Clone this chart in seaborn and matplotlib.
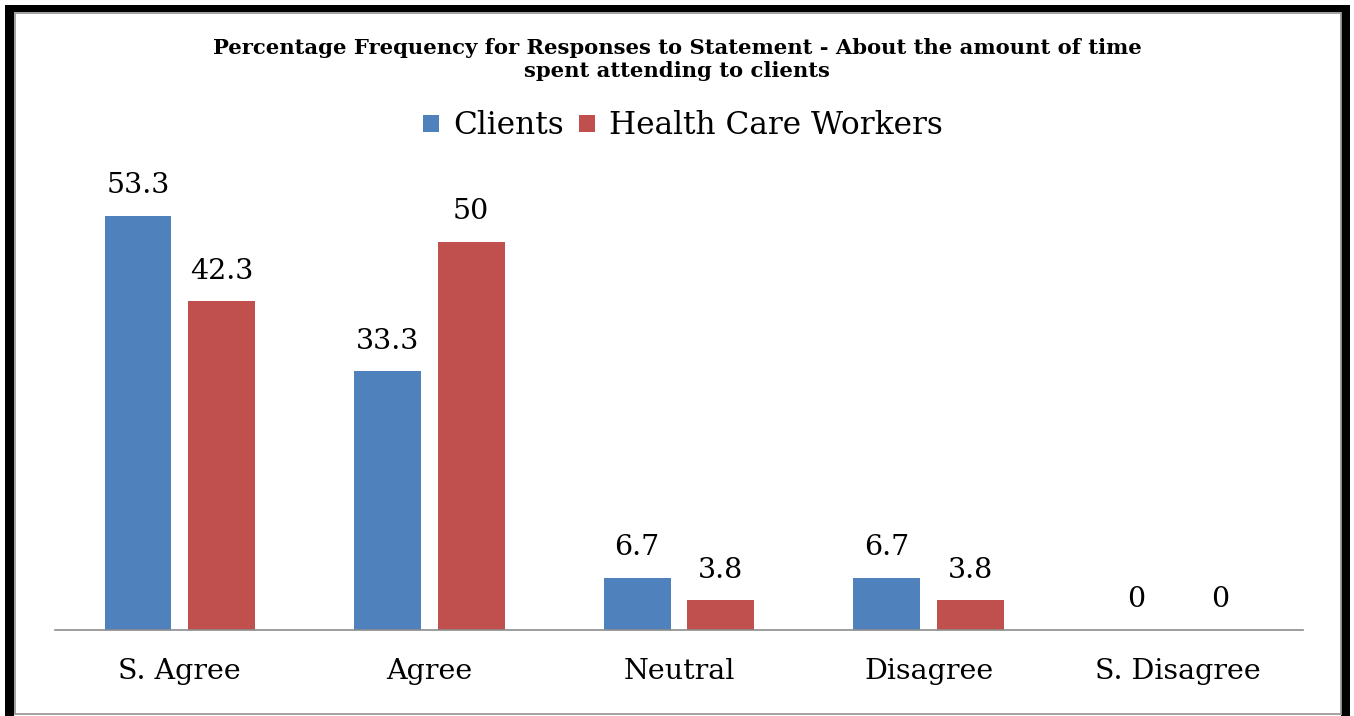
import matplotlib
matplotlib.use("Agg")
import matplotlib.pyplot as plt
from matplotlib.patches import Rectangle
import pandas as pd
import seaborn as sns

# Survey responses (percentage frequency)
categories = ["S. Agree", "Agree", "Neutral", "Disagree", "S. Disagree"]
clients = [53.3, 33.3, 6.7, 6.7, 0]
health_workers = [42.3, 50, 3.8, 3.8, 0]
groups = ["Clients", "Health Care Workers"]
title = ("Percentage Frequency for Responses to Statement - About the amount of time\n"
         "spent attending to clients")

df = pd.DataFrame({
    "Response": categories * 2,
    "Percent": clients + health_workers,
    "Group": [groups[0]] * len(categories) + [groups[1]] * len(categories),
})

sns.set_theme(style="white")
plt.rcParams["font.family"] = ["DejaVu Serif"]

W, H = 1354, 716
fig = plt.figure(figsize=(W / 100, H / 100), dpi=100)
fig.patch.set_facecolor("white")


def fx(px):
    return px / W


def fy(py):
    return 1 - py / H


ax = fig.add_axes([fx(55), fy(630), fx(1303) - fx(55), (630 - 164) / H])

sns.barplot(data=df, x="Response", y="Percent", hue="Group", order=categories,
            hue_order=groups, palette=["#4F81BD", "#C0504D"], width=0.67, gap=0.2,
            saturation=1, edgecolor="none", ax=ax)

ax.set_xlim(-0.5, len(categories) - 0.5)
ax.set_ylim(0, 60)
ax.set_xlabel("")
ax.set_ylabel("")
ax.set_yticks([])
for side in ("top", "left", "right"):
    ax.spines[side].set_visible(False)
ax.spines["bottom"].set_color("#8c8c8c")
ax.spines["bottom"].set_linewidth(1.2)
ax.tick_params(axis="x", length=0, pad=20, labelsize=20.5, colors="black")
ax.set_facecolor("white")

for cont in ax.containers:
    ax.bar_label(cont, labels=[f"{b.get_height():g}" for b in cont],
                 padding=12, fontsize=20.5, color="black")

handles, labels = ax.get_legend_handles_labels()
ax.legend_.remove()
leg = fig.legend(handles, labels, loc="center", bbox_to_anchor=(fx(683), fy(126)),
                 ncol=2, frameon=False, fontsize=22.5, handlelength=0.5, handleheight=0.5,
                 handletextpad=0.45, columnspacing=0.5, borderaxespad=0, borderpad=0)
for t in leg.get_texts():
    t.set_color("black")

fig.text(0.5, fy(59.5), title, ha="center", va="center", fontsize=15.2,
         fontweight="bold", linespacing=1.18, color="black")

# Page frame: heavy black edge with a thin grey inner rule
for (x0, y0, x1, y1) in [(5, 5, 14, 716), (5, 5, 1350, 12), (1341, 5, 1350, 716)]:
    fig.patches.append(Rectangle((fx(x0), fy(y1)), fx(x1) - fx(x0), fy(y0) - fy(y1),
                                 transform=fig.transFigure, facecolor="black",
                                 edgecolor="none", zorder=5))
fig.patches.append(Rectangle((fx(14.5), fy(714)), fx(1340.5) - fx(14.5), fy(12.5) - fy(714),
                             transform=fig.transFigure, facecolor="none",
                             edgecolor="#9a9a9a", linewidth=1.3, zorder=5))

fig.savefig("out.png", dpi=100)
